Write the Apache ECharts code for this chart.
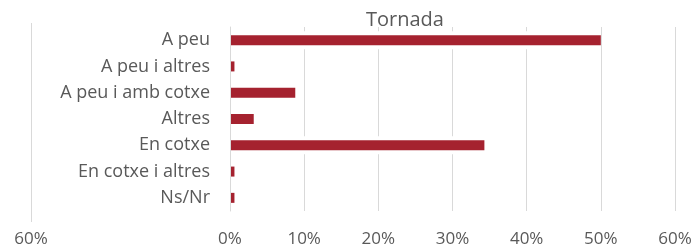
<!DOCTYPE html>
<html>
<head>
<meta charset="utf-8">
<script src="https://cdn.jsdelivr.net/npm/echarts@6/dist/echarts.min.js"></script>
<style>
  html, body { margin: 0; padding: 0; background: #fff; }
  #chart { width: 695px; height: 248px; }
</style>
</head>
<body>
<div id="chart"></div>
<script>
// categories, top to bottom
const categories = ['A peu', 'A peu i altres', 'A peu i amb cotxe', 'Altres', 'En cotxe', 'En cotxe i altres', 'Ns/Nr'];
// percentage of answers
const values = [50.0, 0.6, 8.8, 3.2, 34.3, 0.6, 0.6];

const textColor = '#595959';
const gridColor = '#d9d9d9';
const font = 'Open Sans';

const chart = echarts.init(document.getElementById('chart'));

const option = {
  animation: false,
  title: {
    text: 'Tornada',
    left: 361,
    top: 5,
    textStyle: { fontFamily: font, fontSize: 20, fontWeight: 'normal', color: textColor },
  },
  grid: [
    { left: 230, right: 20, top: 27, bottom: 37 },
    // side axis on the left, only shows its outer line and label
    { left: 31, width: 199, top: 23, bottom: 26 },
  ],
  xAxis: [{
    gridIndex: 0,
    type: 'value',
    min: 0,
    max: 60,
    interval: 10,
    axisLine: { show: false },
    axisTick: { show: false },
    splitLine: { lineStyle: { color: gridColor, width: 1 } },
    axisLabel: { formatter: '{value}%', color: textColor, fontFamily: font, fontSize: 17, margin: 20 },
  }, {
    gridIndex: 1,
    type: 'value',
    min: -60,
    max: 0,
    interval: 60,
    axisLine: { show: false },
    axisTick: { show: false },
    splitLine: { show: true, showMaxLine: false, lineStyle: { color: gridColor, width: 1 } },
    axisLabel: {
      showMaxLabel: false,
      formatter: (v) => `${Math.abs(v)}%`,
      color: textColor,
      fontFamily: font,
      fontSize: 17,
      margin: 9,
    },
  }],
  yAxis: [{
    gridIndex: 0,
    type: 'category',
    data: categories,
    inverse: true,
    z: 3,
    axisLine: { lineStyle: { color: gridColor } },
    axisTick: { length: 7, lineStyle: { color: gridColor } },
    axisLabel: { color: textColor, fontFamily: font, fontSize: 18, margin: 20 },
  }, {
    gridIndex: 0,
    type: 'category',
    data: categories,
    inverse: true,
    show: false,
  }, {
    gridIndex: 1,
    type: 'value',
    show: false,
  }],
  series: [{
    // white halo behind the bars (hides gridlines like the original)
    type: 'bar',
    yAxisIndex: 1,
    data: values,
    barWidth: 18,
    silent: true,
    z: 1,
    itemStyle: { color: '#fff' },
  }, {
    type: 'bar',
    yAxisIndex: 0,
    data: values,
    barWidth: 10,
    z: 2,
    itemStyle: { color: '#a5222f' },
  }],
};

chart.setOption(option);
</script>
</body>
</html>
